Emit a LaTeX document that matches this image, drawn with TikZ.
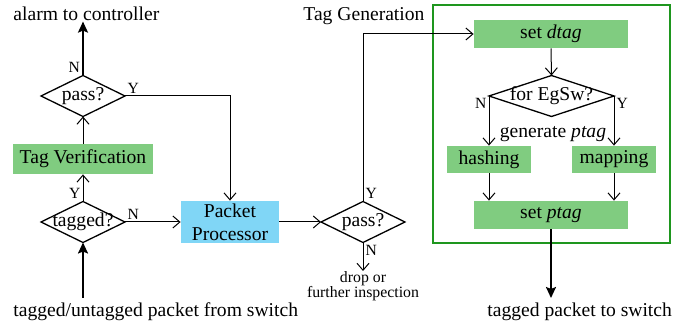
\documentclass[tikz,border=0pt]{standalone}
\usepackage{fontspec}
\setmainfont{Liberation Serif}
\usepackage{xcolor}
\usetikzlibrary{arrows.meta,positioning,shapes.geometric}

\definecolor{boxgreen}{RGB}{128,204,128}
\definecolor{boxblue}{RGB}{128,214,246}
\definecolor{framegreen}{RGB}{30,150,30}

% keep decision text from widening the diamond
\newcommand{\dtext}[1]{\makebox[0pt]{#1}}

\begin{document}
\begin{tikzpicture}[
  x=0.5pt, y=-0.5pt,
  font=\fontsize{9.8}{11.5}\selectfont,
  txt/.style={inner sep=0pt},
  gbox/.style={fill=boxgreen, inner sep=0pt, align=center},
  bbox/.style={fill=boxblue, inner sep=0pt, align=center},
  dec/.style={diamond, draw, line width=0.65pt, inner sep=0pt, outer sep=0pt,
    minimum width=42pt, minimum height=20.5pt},
  frm/.style={draw=framegreen, line width=1pt, inner sep=0pt,
    minimum width=118.5pt, minimum height=119pt},
  ar/.style={-{Straight Barb[length=3.5pt,width=6pt]}, line width=0.5pt},
  big/.style={-{Stealth[length=5.5pt,width=5pt,inset=1pt]}, line width=1pt},
  yn/.style={font=\fontsize{7.8}{8}\selectfont, inner sep=1pt}
]
\useasboundingbox (0,0) rectangle (692,326);

% outside texts
\node[txt, anchor=base west] (alarm) at (13,21) {alarm to controller};
\node[txt, anchor=base west] (tgen)  at (303,21) {Tag Generation};
\node[txt, anchor=base west] (src)   at (13,317) {tagged/untagged packet from switch};
\node[txt, anchor=base west] (dst)   at (487,317) {tagged packet to switch};
\node[txt, anchor=north, align=center, font=\fontsize{7.9}{7.5}\selectfont]
  (drop) at (363,271) {drop or\\further inspection};
\coordinate (in)  at (83,298);
\coordinate (out) at (551,298);

% verification side
\node[dec] (p1) at (83,96) {\dtext{pass?}};
\node[gbox, minimum width=70pt, minimum height=15pt] (tv) at (83,159) {Tag Verification};
\node[dec] (t1) at (83,222) {\dtext{tagged?}};
\node[bbox, minimum width=49pt, minimum height=21pt] (pp) at (230,222) {Packet\\Processor};
\node[dec] (p2) at (363,222) {\dtext{pass?}};

% tag generation block
\node[frm] (tg) at (551.5,124) {};
\node[gbox, minimum width=77pt, minimum height=14pt] (sd) at (551,34) {set \textit{dtag}};
\node[dec, minimum width=62.5pt] (eg) at (551.5,96) {\dtext{for EgSw?}};
\node[txt] (gen) at (553,134) {generate \textit{ptag}};
\node[gbox, minimum width=42pt, minimum height=13.5pt] (hs) at (489,159.5) {hashing};
\node[gbox, minimum width=42pt, minimum height=13.5pt] (mp) at (614,159.5) {mapping};
\node[gbox, minimum width=77pt, minimum height=14pt] (sp) at (551,215) {set \textit{ptag}};

% connectors
\draw[big] (p1.north) node[yn, anchor=south east] {N} -- (p1.north |- alarm.south);
\draw[ar] (tv.north) -- (p1.south);
\draw[ar] (t1.north) node[yn, anchor=south east] {Y} -- (tv.south);
\draw[big] (in) -- (t1.south);
\draw[ar] (t1.east) node[yn, anchor=south west] {N} -- (pp.west);
\draw[ar] (p1.east) node[yn, anchor=south west] {Y} -| (pp.north);
\draw[ar] (pp.east) -- (p2.west);
\draw[ar] (p2.north) node[yn, anchor=south west] {Y} |- (sd.west);
\draw[ar] (p2.south) node[yn, anchor=north west] {N} -- (drop.north);
\draw[ar] (sd.south) -- (eg.north);
\draw[ar] (eg.west) node[yn, anchor=north east] {N} -- (eg.west |- hs.north);
\draw[ar] (eg.east) node[yn, anchor=north west] {Y} -- (eg.east |- mp.north);
\draw[ar] (hs.south) -- (hs.south |- sp.north);
\draw[ar] (mp.south) -- (mp.south |- sp.north);
\draw[big] (sp.south) -- (out);
\end{tikzpicture}
\end{document}
